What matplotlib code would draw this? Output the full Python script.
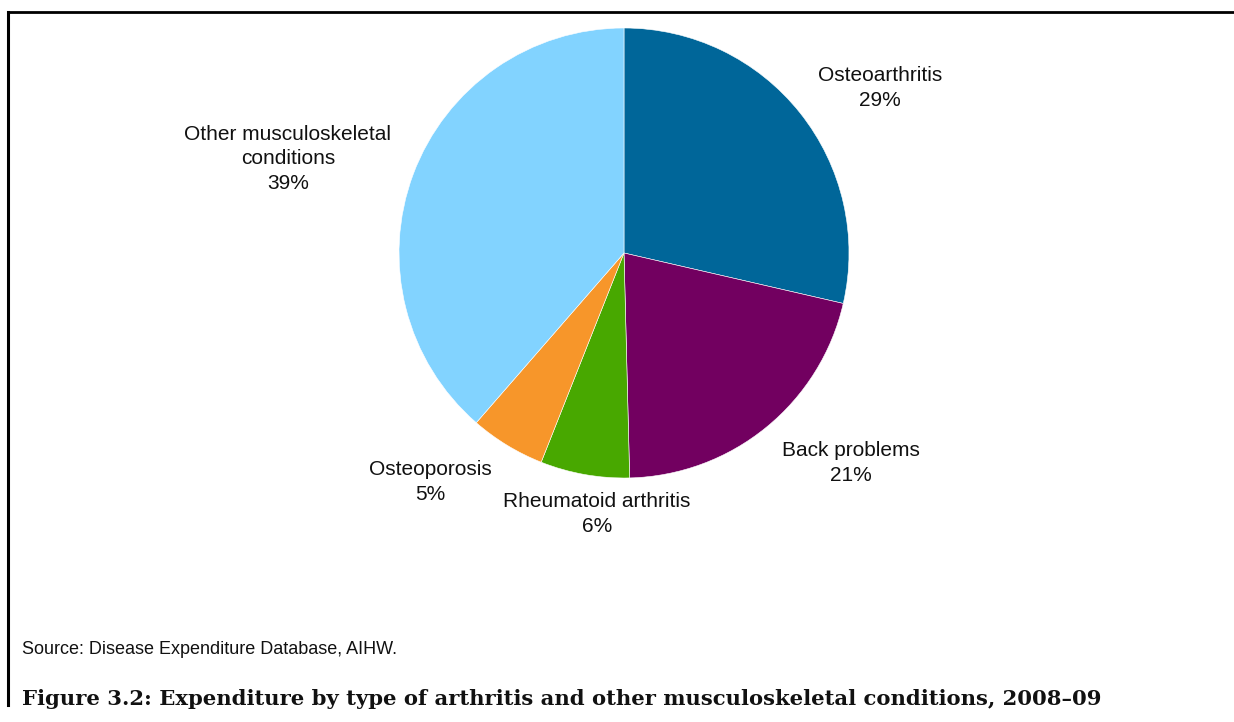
import matplotlib
matplotlib.use("Agg")
import matplotlib.pyplot as plt
from matplotlib.lines import Line2D

categories = ["Osteoarthritis", "Back problems", "Rheumatoid arthritis", "Osteoporosis",
              "Other musculoskeletal\nconditions"]
values = [28.6, 21.0, 6.4, 5.4, 38.6]
pct_labels = ["29%", "21%", "6%", "5%", "39%"]
colors = ["#006699", "#720060", "#48A800", "#F7962A", "#82D3FF"]

W, H = 1234, 722
fig = plt.figure(figsize=(W / 100, H / 100), dpi=100)
ax = fig.add_axes([0, 0, 1, 1])

cx, cy, r = 624, H - 253, 225
ax.pie(values, colors=colors, startangle=90, counterclock=False, center=(cx, cy),
       radius=r, wedgeprops=dict(edgecolor="white", linewidth=0.4), frame=True)
ax.set_xlim(0, W)
ax.set_ylim(0, H)
ax.axis("off")

# label positions (pixel coordinates of text centres)
label_pos = [(880, 88), (851, 463), (597, 514), (430, 482), (288, 159)]
for cat, p, (px, py) in zip(categories, pct_labels, label_pos):
    ax.text(px, H - py, f"{cat}\n{p}", ha="center", va="center",
            fontsize=15.0, family="Liberation Sans", linespacing=1.35, color="#111111")

# border
ax.add_line(Line2D([8, 1233], [H - 12, H - 12], color="black", lw=2))
ax.add_line(Line2D([8, 8], [H - 12, H - 705], color="black", lw=2.2))

ax.text(22, H - 650, "Source: Disease Expenditure Database, AIHW.", ha="left", va="center",
        fontsize=13.0, family="Liberation Sans", color="#111111")
ax.text(22, H - 705, "Figure 3.2: Expenditure by type of arthritis and other musculoskeletal conditions, 2008\u201309",
        ha="left", va="baseline", fontsize=15.2, family="DejaVu Serif", fontweight="bold",
        color="#111111")

fig.savefig("out.png", dpi=100)
